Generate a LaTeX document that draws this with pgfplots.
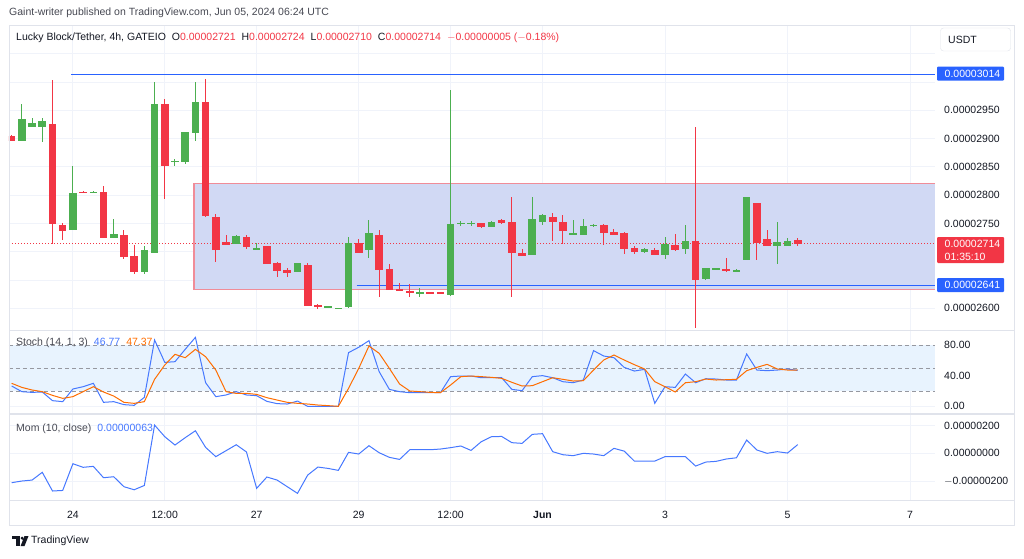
\documentclass[border=0pt]{standalone}
\usepackage{pgfplots}
\pgfplotsset{compat=1.18}
\usepackage{pgfplotstable}
\usepackage{fontspec}
\setmainfont{Liberation Sans}
\definecolor{tvgreen}{HTML}{4CAF50}
\definecolor{tvred}{HTML}{F23645}
\definecolor{tvblue}{HTML}{2962FF}
\definecolor{kblue}{RGB}{70,120,255}
\definecolor{tvorange}{HTML}{FF6D00}
\definecolor{gridc}{HTML}{F0F3FA}
\definecolor{framec}{HTML}{E0E3EB}
\definecolor{txt}{HTML}{131722}
\definecolor{gtxt}{RGB}{70,72,82}
\definecolor{boxfill}{RGB}{209,217,244}
\definecolor{boxline}{RGB}{240,140,152}
\definecolor{stochfill}{RGB}{232,243,254}
\definecolor{dashc}{RGB}{150,152,160}

\pgfplotstableread{
i o h l c
1 2895.8 2961.2 2895.8 2934.1
2 2921.1 2935.9 2921 2927.0
3 2921.1 2935.9 2894.6 2930.6
6 2737.9 2852.2 2737.9 2804.5
8 2803.3 2807 2803 2806.2
10 2724.9 2757.3 2724.9 2730.8
13 2663.7 2710.2 2661.3 2702.5
14 2697.8 3000.7 2697.8 2961.2
16 2858.1 2863.4 2852.2 2861.0
17 2858.7 2912 2854.5 2911.7
18 2910.5 3000.7 2896.4 2964.1
22 2714.3 2730.2 2713.1 2727.9
24 2703.1 2716.1 2703.1 2707.3
28 2664.2 2680 2664 2679.6
31 2601.2 2604.5 2601 2604.1
32 2598.8 2601.2 2598.8 2601.2
33 2601.8 2726.7 2601 2714.9
35 2703.1 2756.8 2688.4 2733.8
40 2626.5 2636.6 2620.6 2627.5
43 2624.2 2985.9 2622.4 2749.1
44 2749.7 2755 2746.1 2750.9
45 2749.7 2755 2746 2750.9
47 2744.4 2755 2744 2753.2
51 2694.3 2797.4 2694.3 2757.9
52 2753.2 2767 2747.3 2765.0
55 2729.6 2756.2 2729.6 2732.6
56 2730.2 2757.9 2730.2 2746.1
57 2745.5 2749 2744.4 2747.3
62 2699 2706.1 2698.4 2704.3
64 2694.3 2726.7 2686.6 2713.7
66 2704.3 2747.3 2696.1 2719.6
68 2651.3 2671.9 2650.1 2671.9
69 2667.8 2672 2667 2671.3
71 2664.2 2669 2664 2667.8
72 2684.9 2796.2 2684.9 2796.2
75 2710.8 2753.2 2677.8 2716.7
76 2710.8 2723.8 2710.8 2719.6
}\greentab

\pgfplotstableread{
i o h l c
0 2905.2 2905.5 2895.8 2895.8
4 2925.8 3003.6 2713.1 2749.1
5 2746.7 2750.3 2720.8 2736.1
7 2806.2 2807 2803 2803.3
9 2805.7 2816.3 2723.8 2723.8
11 2729.1 2737.9 2686.6 2691.3
12 2692.5 2712 2661.3 2664.2
15 2961.2 2969.4 2793.9 2851.0
19 2964.1 3004.8 2762 2763.2
20 2761.5 2766.2 2682.5 2702.5
21 2717.9 2729.6 2712.6 2712.6
23 2726.1 2729.6 2704.3 2709.0
25 2710.2 2710.8 2679 2679.0
26 2679.6 2681.3 2656 2666.0
27 2667.8 2671.3 2656 2662.5
29 2676.6 2680.7 2603.6 2603.6
30 2606.5 2607 2599.4 2601.8
34 2714.9 2722.6 2697.8 2697.8
36 2729.1 2738.5 2620.6 2667.8
37 2669 2677.8 2632.4 2632.4
38 2633.6 2644.2 2630 2630.1
39 2631.2 2642.4 2620.6 2626.5
41 2628.9 2629 2626 2626.0
42 2628.9 2629 2624.8 2624.8
46 2750.3 2751 2742 2744.4
48 2755.6 2758.5 2749 2751.4
49 2753.2 2797.4 2620.6 2697.8
50 2697.8 2704.3 2693.1 2693.1
53 2762.1 2767.9 2719.6 2753.2
54 2753.2 2765 2713.7 2736.7
58 2747.3 2749 2712 2732.6
59 2735 2739.7 2729.6 2729.6
60 2732.6 2735 2696.1 2705.5
61 2707.3 2710.2 2696.1 2699.0
63 2703.1 2706.1 2694.3 2694.3
65 2711.4 2731.4 2702 2703.1
67 2719.6 2921.1 2564.7 2650.1
70 2669.6 2689.6 2664.2 2665.4
73 2785.6 2785.6 2685.5 2715.5
74 2722.6 2738.5 2710.2 2710.2
77 2721 2724 2710 2714
}\redtab

\pgfplotstableread{
i k d m
0 26.5 30 -212
1 19.1 24.7 -200
2 18.2 21.3 -193
3 18.7 19.1 -137
4 7.4 14.3 -272
5 6.1 10.4 -268
6 22.6 12.6 -75
7 25.6 19.1 -101
8 30 25.6 -94
9 5.2 18.7 -176
10 6.1 13.4 -169
11 2.2 5.2 -241
12 1.3 3.9 -263
13 11.7 6.1 -232
14 86.5 35.2 204
15 57.3 53.9 120
16 58.2 67.8 60
17 74.3 63.4 113
18 89.9 74.3 163
19 30.8 64.7 43
20 12.6 47.3 -24
21 14.8 19.1 19
22 19.1 16.9 62
23 14.8 16.9 10
24 13.9 15.6 -253
25 6.5 11.3 -171
26 3.5 8.2 -193
27 3 5.2 -241
28 6.9 3.9 -289
29 0 3 -157
30 0 1.7 -99
31 0 0.9 -109
32 0 0 -123
33 70 23.4 7
34 77 49.5 -5
35 85.6 78.6 55
36 45.2 69.1 4.5
37 22.1 49.5 -29
38 19.1 29.1 -44
39 17.8 20 26
40 17.8 19.1 26
41 17.8 18.2 26
42 17.8 17.8 31
43 38.7 27.8 41
44 39.5 38.7 53
45 39.5 39.5 21
46 37.3 38.7 84
47 37.3 37.8 120
48 37.3 36.5 122
49 22.1 31.3 77
50 20.4 26.5 72
51 38.7 26.9 137
52 40 32.1 142
53 37.3 37.3 12
54 32.1 35.2 -10
55 30.8 33 -17
56 34.3 33.4 0
57 72.6 47.3 -5
58 65.6 60.4 -17
59 63.4 66.9 36
60 50.8 60.4 16
61 46 54.3 -56
62 48.2 48.7 -56
63 3.9 32.1 -56
64 25.6 25.6 -24
65 24.7 18.7 -24
66 42.1 30.8 -24
67 30.8 32.1 -92
68 36 35.6 -63
69 35.6 34.3 -58
70 34.3 34.7 -41
71 34.3 35.2 -32
72 68.2 46.5 96
73 47.3 50.8 24
74 46.5 54.7 0
75 47.3 48.7 12
76 48.7 47.3 2
77 46.77 47.37 63
}\indtab

\pgfplotsset{
  tvaxis/.style={
    scale only axis, width=926pt, anchor=south west,
    xmin=-0.26, xmax=90.45,
    axis line style={draw=none}, major tick length=0pt,
    xtick={6,15,24,34,43,52,64,76,88},
    grid=major, major grid style={gridc, line width=0.9pt},
    yticklabel pos=right,
    yticklabel style={anchor=west, inner sep=0pt, xshift=9pt, text=txt, font=\fontsize{10.5}{12}\selectfont},
    xticklabel style={anchor=base, inner sep=0pt, yshift=-18pt, text=txt, font=\fontsize{10.5}{12}\selectfont},
  },
  wick/.style={draw=none, mark=none, forget plot,
    error bars/.cd, y dir=both, y explicit, error mark=none,
    error bar style={draw=#1, line width=1pt}},
  body/.style={draw=none, mark=none, forget plot,
    error bars/.cd, y dir=both, y explicit, error mark=none,
    error bar style={draw=#1, line width=7.6pt}},
}

\begin{document}
\begin{tikzpicture}[x=1pt,y=1pt,font=\fontsize{10.5}{12}\selectfont]
\path[use as bounding box] (0,0) rectangle (1024,558);

% ---------- main price pane ----------
\begin{axis}[tvaxis, at={(9pt,228pt)}, height=304pt,
  ymin=2561.6, ymax=3099,
  ytick={2600,2650,2700,2750,2800,2850,2900,2950,3000,3050},
  yticklabels={0.00002600,,,0.00002750,0.00002800,0.00002850,0.00002900,0.00002950,,},
  xticklabels={}]
  \addplot[fill=boxfill, draw=none, forget plot] coordinates {(17.86,2633.6) (90.45,2633.6) (90.45,2821) (17.86,2821)} -- cycle;
  \addplot[boxline, line width=1.3pt, forget plot] coordinates {(90.45,2821) (17.86,2821) (17.86,2633.6) (90.45,2633.6)};
  \addplot[tvblue, line width=1pt, forget plot] coordinates {(5.85,3014) (90.45,3014)};
  \addplot[tvblue, line width=1pt, forget plot] coordinates {(33.8,2641) (90.45,2641)};
  \addplot[tvred, line width=0.8pt, dash pattern=on 1pt off 2pt, forget plot] coordinates {(-0.26,2714) (90.45,2714)};
  \addplot[wick=tvgreen] table[x=i, y expr={(\thisrow{h}+\thisrow{l})/2}, y error expr={(\thisrow{h}-\thisrow{l})/2}] {\greentab};
  \addplot[wick=tvred] table[x=i, y expr={(\thisrow{h}+\thisrow{l})/2}, y error expr={(\thisrow{h}-\thisrow{l})/2}] {\redtab};
  \addplot[body=tvgreen] table[x=i, y expr={(\thisrow{o}+\thisrow{c})/2}, y error expr={max(abs(\thisrow{o}-\thisrow{c})/2,1.0)}] {\greentab};
  \addplot[body=tvred] table[x=i, y expr={(\thisrow{o}+\thisrow{c})/2}, y error expr={max(abs(\thisrow{o}-\thisrow{c})/2,1.0)}] {\redtab};
\end{axis}

% ---------- stochastic pane ----------
\begin{axis}[tvaxis, at={(9pt,144pt)}, height=83pt,
  ymin=-10, ymax=98.2,
  ytick={0,40,80}, yticklabels={0.00,40.00,80.00},
  xticklabels={}]
  \addplot[fill=stochfill, draw=none, forget plot] coordinates {(-0.26,20) (90.45,20) (90.45,80) (-0.26,80)} -- cycle;
  \addplot[dashc, line width=0.9pt, dash pattern=on 4pt off 3pt, forget plot] coordinates {(-0.26,80) (90.45,80)};
  \addplot[dashc, line width=0.9pt, dash pattern=on 4pt off 3pt, forget plot] coordinates {(-0.26,50) (90.45,50)};
  \addplot[dashc, line width=0.9pt, dash pattern=on 4pt off 3pt, forget plot] coordinates {(-0.26,20) (90.45,20)};
  \addplot[kblue, line width=1pt, mark=none] table[x=i, y=k] {\indtab};
  \addplot[tvorange, line width=1pt, mark=none] table[x=i, y=d] {\indtab};
\end{axis}

% ---------- momentum pane ----------
\begin{axis}[tvaxis, at={(9pt,58pt)}, height=86pt,
  ymin=-337, ymax=284,
  ytick={-200,0,200}, yticklabels={$-$0.00000200,0.00000000,0.00000200},
  xticklabels={24,12:00,27,29,12:00,\textbf{Jun},3,5,7}]
  \addplot[kblue, line width=1pt, mark=none] table[x=i, y=m] {\indtab};
\end{axis}

% ---------- frame ----------
\draw[framec, line width=1pt] (9,33) rectangle (1014,532);
\draw[framec, line width=1.2pt] (9,227.5) -- (1014,227.5);
\draw[framec, line width=1.2pt] (9,144) -- (1014,144);
\draw[framec, line width=1pt] (9,58) -- (1014,58);

% ---------- texts ----------
\node[anchor=west, inner sep=0pt, text=gtxt, font=\fontsize{10.5}{12}\selectfont] at (9,545) {Gaint-writer published on TradingView.com, Jun 05, 2024 06:24 UTC};
\node[anchor=west, inner sep=0pt, text=txt] at (16,520) {Lucky Block/Tether, 4h, GATEIO\hspace{6pt}O\textcolor{tvred}{0.00002721}\hspace{6pt}H\textcolor{tvred}{0.00002724}\hspace{6pt}L\textcolor{tvred}{0.00002710}\hspace{6pt}C\textcolor{tvred}{0.00002714}\hspace{6pt}\textcolor{tvred}{$-$0.00000005 ($-$0.18\%)}};
\node[anchor=west, inner sep=0pt, text=gtxt] at (16,215) {Stoch (14, 1, 3)\hspace{6pt}\textcolor{kblue}{46.77}\hspace{6pt}\textcolor{tvorange}{47.37}};
\node[anchor=west, inner sep=0pt, text=gtxt] at (16,129) {Mom (10, close)\hspace{6pt}\textcolor{kblue}{0.00000063}};

% ---------- price-scale labels ----------
\draw[framec, fill=white, rounded corners=3pt] (940.5,507) rectangle (1010.5,530);
\node[anchor=west, inner sep=0pt, text=txt] at (948,518.5) {USDT};
\fill[tvblue, rounded corners=1pt] (937,477.3) rectangle (1004,491.3);
\node[anchor=west, inner sep=0pt, text=white] at (944.5,484.3) {0.00003014};
\fill[tvred, rounded corners=1pt] (937,295) rectangle (1004,321);
\node[anchor=west, inner sep=0pt, text=white] at (944.5,314) {0.00002714};
\node[anchor=west, inner sep=0pt, text=white] at (944.5,301) {01:35:10};
\fill[tvblue, rounded corners=1pt] (937,266) rectangle (1004,280);
\node[anchor=west, inner sep=0pt, text=white] at (944.5,273) {0.00002641};

% ---------- footer logo ----------
\fill[txt] (12,19) rectangle (19.5,22);
\fill[txt] (15.8,12) rectangle (19.5,22);
\fill[txt] (22.2,19.8) circle (1.7);
\fill[txt] (24.5,22) -- (28.5,22) -- (24.5,12) -- (20.6,12) -- cycle;
\node[anchor=west, inner sep=0pt, text=txt, font=\fontsize{10.5}{12}\selectfont] at (31,17) {TradingView};
\end{tikzpicture}
\end{document}
